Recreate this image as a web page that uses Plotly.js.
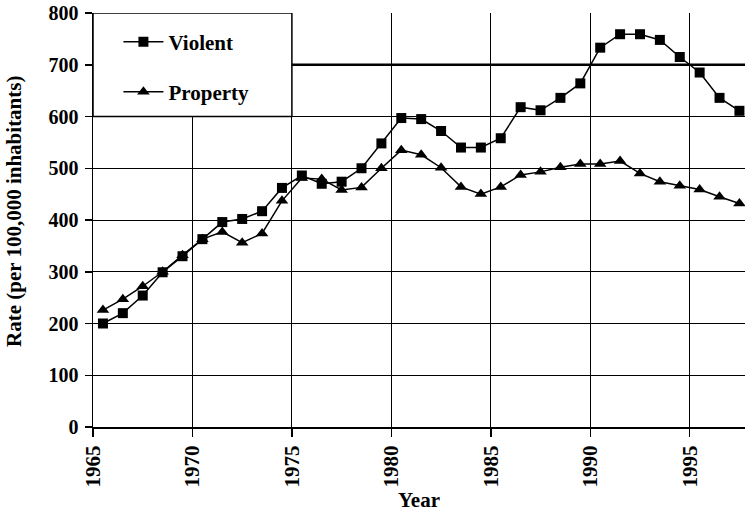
<!DOCTYPE html>
<html>
<head>
<meta charset="utf-8">
<script src="https://cdn.plot.ly/plotly-3.0.1.min.js"></script>
<style>html,body{margin:0;padding:0;background:#fff}#chart{width:745px;height:516px}</style>
</head>
<body>
<div id="chart"></div>
<script>
const years = [1965,1966,1967,1968,1969,1970,1971,1972,1973,1974,1975,1976,1977,1978,1979,1980,1981,1982,1983,1984,1985,1986,1987,1988,1989,1990,1991,1992,1993,1994,1995,1996,1997];
const violent = [200,220,254,299,330,363,396,402,417,462,486,470,474,500,548,597,595,572,540,540,558,618,612,636,664,733,759,759,748,715,685,636,611];
const property = [226,247,272,300,332,363,377,356,374,437,481,479,458,463,500,535,526,501,464,450,464,487,493,502,508,508,514,490,474,466,459,445,432];
const xTicks = [1965,1970,1975,1980,1985,1990,1995];
const yTicks = [0,100,200,300,400,500,600,700,800];
const seriesNames = ["Violent","Property"];
const yTitle = "Rate (per 100,000 inhabitants)";
const xTitle = "Year";

// points sit in the middle of each year's category slot
const xPos = years.map(y => y + 0.5);
const FONT = "Liberation Serif, Times New Roman, serif";

const traces = [
  {x: xPos, y: violent, name: seriesNames[0], mode: "lines+markers", type: "scatter",
   line: {color: "#000", width: 1.5}, marker: {symbol: "square", size: 10, color: "#000"},
   legend: "legend"},
  {x: xPos, y: property, name: seriesNames[1], mode: "lines+markers", type: "scatter",
   line: {color: "#000", width: 1.5}, marker: {symbol: "triangle-up", size: 11, color: "#000"},
   legend: "legend2"}
];

const legendCommon = {
  x: 0.039, xanchor: "left", yanchor: "middle",
  bgcolor: "rgba(0,0,0,0)", borderwidth: 0,
  font: {family: FONT, size: 21, color: "#000", weight: "bold"},
  itemwidth: 40
};

const layout = {
  width: 745, height: 516,
  margin: {l: 93, r: 0, t: 13, b: 89},
  paper_bgcolor: "#fff", plot_bgcolor: "#fff",
  font: {family: FONT, color: "#000"},
  showlegend: true,
  legend: Object.assign({}, legendCommon, {y: 0.930}),
  legend2: Object.assign({}, legendCommon, {y: 0.809}),
  xaxis: {
    range: [1965, 1997.78], tickmode: "array", tickvals: xTicks, ticktext: xTicks.map(String),
    tickangle: -90, ticks: "outside", ticklen: 8, tickwidth: 1.5, tickcolor: "#000",
    showgrid: true, gridcolor: "#000", gridwidth: 1,
    showline: true, linecolor: "#000", linewidth: 2, zeroline: false,
    tickfont: {family: FONT, size: 21, color: "#000", weight: "bold"},
    title: {text: xTitle, font: {family: FONT, size: 21, color: "#000", weight: "bold"}, standoff: 6},
    fixedrange: true
  },
  yaxis: {
    range: [0, 800], tickmode: "array", tickvals: yTicks, ticktext: yTicks.map(String),
    ticks: "outside", ticklen: 7, tickwidth: 1.5, tickcolor: "#000",
    showgrid: true, gridcolor: "#000", gridwidth: 1,
    showline: true, linecolor: "#000", linewidth: 1.5, zeroline: false,
    tickfont: {family: FONT, size: 20, color: "#000", weight: "bold"},
    ticklabelstandoff: 2,
    fixedrange: true
  },
  annotations: [
    {text: yTitle, xref: "paper", yref: "paper", x: -0.1212, y: 0.5217,
     xanchor: "center", yanchor: "middle", textangle: -90, showarrow: false,
     font: {family: FONT, size: 21, color: "#000", weight: "bold"}}
  ],
  shapes: [
    {type: "rect", xref: "x", yref: "y", x0: 1965, x1: 1975, y0: 600, y1: 800,
     fillcolor: "#fff", line: {color: "#000", width: 1.5}, layer: "between"},
    {type: "line", xref: "x", yref: "y", x0: 1975, x1: 1997.78, y0: 700, y1: 700,
     line: {color: "#000", width: 2.5}, layer: "between"}
  ]
};

Plotly.newPlot("chart", traces, layout, {displayModeBar: false, staticPlot: true});
</script>
</body>
</html>
